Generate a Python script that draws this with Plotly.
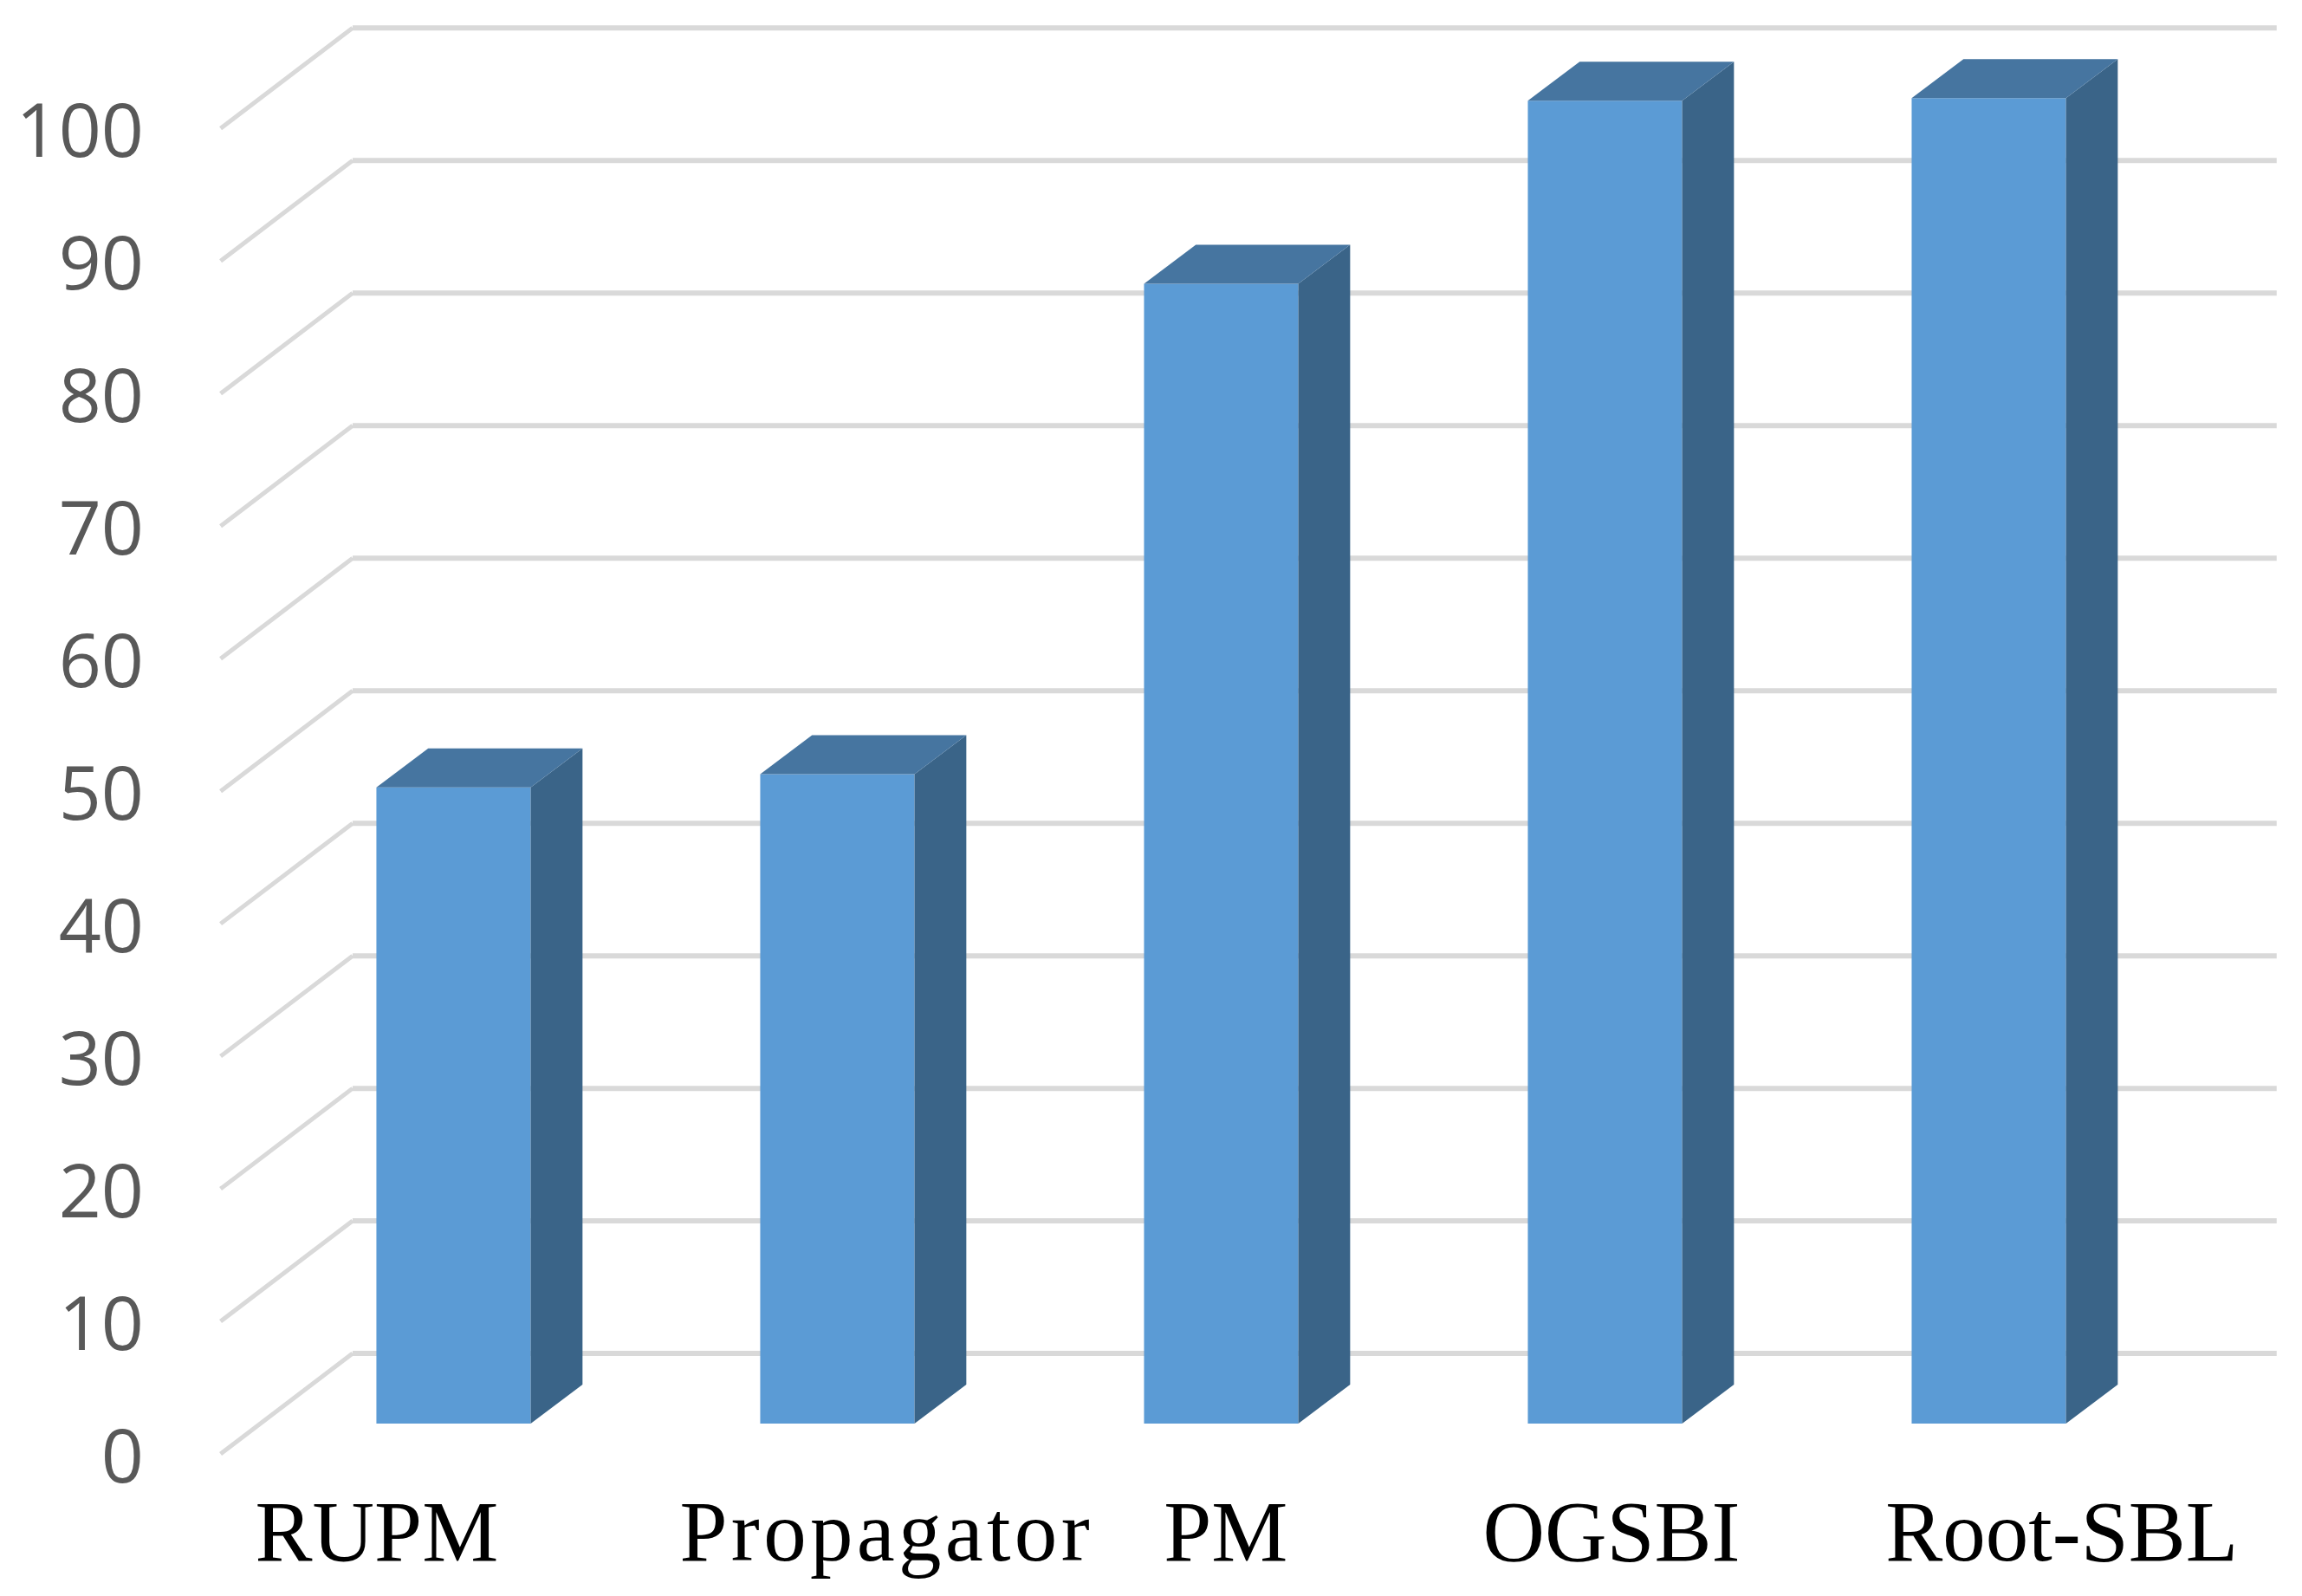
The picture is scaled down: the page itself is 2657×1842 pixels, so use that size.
import plotly.graph_objects as go

# ---- data ----
categories = ["RUPM", '<span style="letter-spacing:4.3px">Propagator</span>', "PM", "OGSBI", "Root-SBL"]
values = [48, 49, 86, 99.8, 100]
axis_ticks = [0, 10, 20, 30, 40, 50, 60, 70, 80, 90, 100]
category_positions = [0, 1, 2, 3, 4]
label_positions = [-0.2, 1.128, 2.012, 3.017, 4.19]

# ---- oblique projection (in axis units) ----
BAR_WIDTH = 0.402
DEPTH_X = 0.135
DEPTH_Y = 2.94
WALL_FRONT_X = -0.607
WALL_BACK_X = -0.263
WALL_RIGHT_X = 4.75
WALL_FRONT_Y = -2.29
WALL_BACK_Y = 5.29
LABEL_NUDGE = -0.2

FRONT = "#5B9BD5"
SIDE = "#3A6488"
TOP = "#4675A0"
GRID = "#D9D9D9"

fig = go.Figure()

fig.add_trace(go.Bar(
    x=category_positions, y=values, width=BAR_WIDTH,
    marker=dict(color=FRONT, line=dict(width=0)),
    showlegend=False, name="front"))

side_x, side_y, top_x, top_y = [], [], [], []
for c, v in zip(category_positions, values):
    xr = c + BAR_WIDTH / 2
    xl = c - BAR_WIDTH / 2
    side_x += [xr, xr + DEPTH_X, xr + DEPTH_X, xr, xr, None]
    side_y += [0, DEPTH_Y, v + DEPTH_Y, v, 0, None]
    top_x += [xl, xl + DEPTH_X, xr + DEPTH_X, xr, xl, None]
    top_y += [v, v + DEPTH_Y, v + DEPTH_Y, v, v, None]

fig.add_trace(go.Scatter(x=side_x, y=side_y, mode="lines", fill="toself",
                         fillcolor=SIDE, line=dict(width=0), showlegend=False,
                         hoverinfo="skip", name="side"))
fig.add_trace(go.Scatter(x=top_x, y=top_y, mode="lines", fill="toself",
                         fillcolor=TOP, line=dict(width=0), showlegend=False,
                         hoverinfo="skip", name="top"))

for t in axis_ticks:
    fig.add_shape(type="line", layer="below", xref="x", yref="y",
                  x0=WALL_FRONT_X, y0=t + WALL_FRONT_Y,
                  x1=WALL_BACK_X, y1=t + WALL_BACK_Y,
                  line=dict(color=GRID, width=5))
    fig.add_shape(type="line", layer="below", xref="x", yref="y",
                  x0=WALL_BACK_X, y0=t + WALL_BACK_Y,
                  x1=WALL_RIGHT_X, y1=t + WALL_BACK_Y,
                  line=dict(color=GRID, width=6))

fig.update_layout(
    width=2657, height=1842,
    margin=dict(l=167, r=0, t=0, b=141),
    plot_bgcolor="white", paper_bgcolor="white",
    showlegend=False,
    xaxis=dict(range=[-0.8047, 4.816], tickmode="array",
               tickvals=label_positions, ticktext=categories,
               showgrid=False, zeroline=False, showline=False, ticks="",
               tickangle=0,
               tickfont=dict(family="Liberation Serif", size=99, color="#000000")),
    yaxis=dict(range=[-3.79, 107.4], tickmode="array",
               tickvals=[t + WALL_FRONT_Y + LABEL_NUDGE for t in axis_ticks],
               ticktext=[str(t) for t in axis_ticks],
               showgrid=False, zeroline=False, showline=False, ticks="",
               tickfont=dict(family="Open Sans", size=86, color="#595959")),
)

fig.write_html("out.html", config={"displayModeBar": False},
               post_script="document.body.style.margin='0';")
